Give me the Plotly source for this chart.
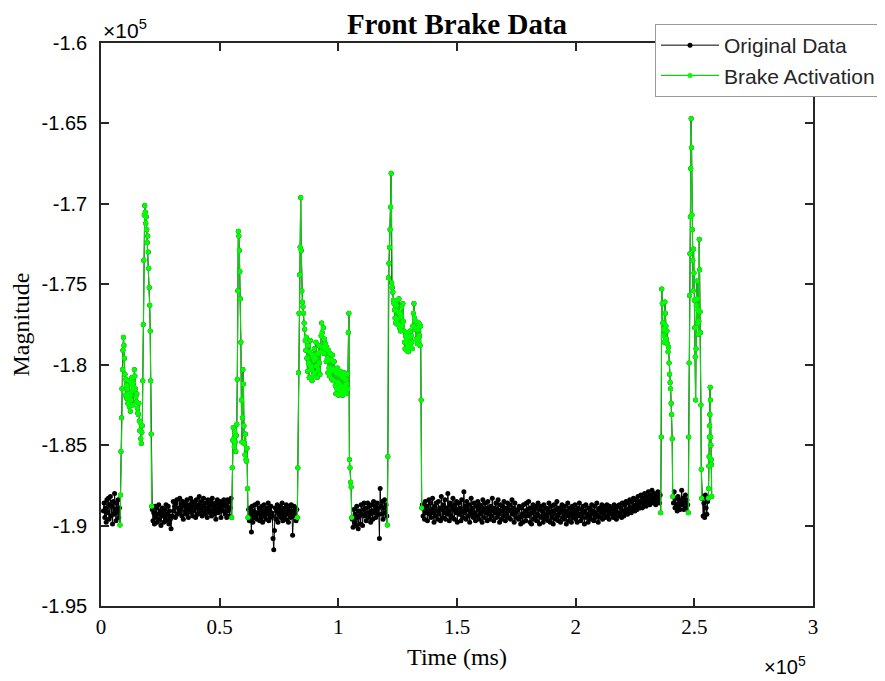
import numpy as np
import plotly.graph_objects as go

# ---- recorded blocks: time window (ms) and whether the brake was active ----
seg_start = [1000, 8000, 21600, 55070, 62200, 82710, 105900, 120630,
             135400, 175600, 215600, 235830, 241200, 247460, 253400, 255880]
seg_end = [7800, 21360, 54800, 61940, 82500, 105630, 120400, 135130,
           175000, 215000, 235600, 240890, 247200, 253100, 255600, 257320]
seg_brake = [0, 1, 0, 1, 0, 1, 0, 1, 0, 0, 0, 1, 0, 1, 0, 1]

# ---- magnitude samples of each block ----
idle_a = [-189100, -188600, -189500, -188900, -189800, -188400, -189200, -188300,
          -189600, -188700, -188200, -189400, -188800, -189900, -188500, -189300,
          -188000, -189000, -189700, -188600, -189200, -188400, -189500, -188900]
brake_a = [-189970, -188100, -185400, -183300, -181500, -180300,
           -179100, -178300, -178800, -179600, -180600, -181900, -180900,
           -181300, -182100, -181500, -182400, -181800, -181000, -182600, -181900,
           -182900, -182200, -181200, -180800, -181600, -182500, -181100, -181400,
           -180300, -180700, -181500, -182000, -182300, -181800, -182700, -183000,
           -183100, -182400, -183500, -184100, -183600, -184600, -184900, -184200, -183800,
           -181000, -177500, -173500, -170700, -170100, -170500, -171200, -170800,
           -171600, -172400, -172000, -173000, -174000, -175200, -176300, -177900,
           -181000, -184300, -188800]
idle_b = [-189000, -189700, -189200, -189900, -188800, -189500, -188900, -189800, -189300, -188700,
          -189600, -189100, -190000, -189200, -188900, -189400, -189800, -189000, -189500, -188700,
          -189700, -189300, -188800, -189900, -189100, -189600, -190200, -189400,
          -189400, -188500, -189100, -188800, -189500, -188600, -188400, -189300, -188900, -189200,
          -188300, -189000, -188700, -189400, -188500, -189600, -188800, -188600, -189100, -189300,
          -188400, -188900, -189500, -188700, -189000, -188300, -189200, -188500, -189400, -188800,
          -189100, -188600, -189500, -188400, -188900, -189300, -188700, -188200, -189200, -189000,
          -188500, -189400, -188800, -188300, -189100, -189300, -188600, -188900, -189500, -188400,
          -189000, -188700, -189200, -188500, -189400, -188300, -189100, -188800, -189300, -188600,
          -189600, -188900, -188400, -189200, -188700, -189000, -188500, -189500, -188800, -188600,
          -189100, -188400, -188600, -189300, -188800, -189500, -188400, -189100, -188500, -189400,
          -188900, -188300]
brake_b = [-189500, -186400, -184700, -183900, -184600, -185100, -184200, -184800,
           -185400, -184400, -183700, -180900, -175400, -171700, -172000, -172900,
           -174200, -175900, -178600, -182200, -184800, -183300, -180300, -181200,
           -183800, -184900, -185600, -184300, -185900, -186000, -185200, -187700, -189500]
idle_c = [-189000, -189700, -188900, -189300, -190400, -188800, -189800, -189100, -189500, -188700,
          -189400, -189200, -189600, -188600, -189300, -188900, -189700, -189000, -189500, -188800,
          -189800, -189200, -188700, -189400, -189100, -189600, -188900, -189300, -188600, -189700,
          -189000, -189500, -188800, -189200, -189400, -190800, -191500, -190300, -188900, -189600,
          -189100, -188700, -189800, -189000, -189300, -188800, -189500, -189200, -188600, -189700,
          -189100, -189400, -188900, -189600, -188700, -189300, -189000, -189800, -188800, -189200,
          -189500, -188700, -189100, -190600, -189400, -188800, -189300, -188900, -189700, -189000]
brake_c = [-189500, -186400, -180500, -176800, -174400, -172700, -169600,
           -172900, -175400, -176100, -176400, -176800, -177400, -177800, -178500, -179100,
           -178300, -179600, -180400, -178800, -179900, -180800, -179200, -178500, -180100,
           -180300, -181000, -179400, -180700, -179700,
           -179000, -180500, -179600, -178600, -180100, -180800, -179300, -180300, -178800,
           -179900, -180600, -179200,
           -178200, -177400, -178000, -178900, -177700, -179300, -178400, -179000,
           -178700, -179800, -178900, -179600, -180500, -179100, -180200, -180700, -179300,
           -180400, -179700, -180900, -179400, -180300, -181000, -179800,
           -180300, -181300, -181800, -180500, -181500, -180200, -181100, -181900, -180600,
           -181600, -180400, -181300, -181700, -180700, -181900, -180800, -181400, -180500,
           -181600, -180900, -181800, -181200, -180600, -181500,
           -178000, -176800, -185900, -186400, -187300, -187600, -189500]
idle_d = [-189600, -190100, -189000, -189800, -189300, -190000, -188800, -189500, -190200, -189100,
          -189400, -189900, -188700, -189300, -190000, -189000, -188600, -189400, -188900, -189700,
          -189200, -188600, -189500, -188800, -189300, -189800, -188700, -189100, -189600, -188500,
          -189200, -188800, -189500, -189000, -188600, -189300, -188900, -190800, -187700, -188800,
          -189300, -188500, -189600, -188900, -188400, -189200, -188700, -189400]
brake_d = [-189970, -185700, -174600, -173700, -172700, -171600, -170200, -168100,
           -174900, -175200, -175500, -176000, -176200, -176600, -177100, -177400,
           -176300, -177200, -176000, -177500, -176700, -175900, -177700, -176800,
           -177900, -177000, -176400, -177600, -176200, -177300,
           -177900, -178600, -179000, -178200,
           -178500, -179100, -178000, -178800, -179200, -178300, -178700, -177900,
           -178900, -178200, -178600, -179000,
           -177600, -176800, -176200, -177100, -177800,
           -177300, -178400, -177700, -178700, -177800, -178500, -177400, -178200,
           -178800, -177600,
           -182200, -188900]
idle_e1 = [-188700, -189400, -188900, -189600, -188500, -189200, -188800, -189700, -189100, -188400,
           -189300, -188600, -189500, -189000, -188300, -189200, -189800, -188800, -189400, -188600,
           -189100, -189600, -188500, -189300, -188900, -189700, -188200, -189000, -189500, -188700,
           -189200, -188400, -189600, -188900, -189300, -188000, -189100, -189700, -188600, -189400,
           -188800, -189500, -188300, -189000, -189600, -188700, -189200, -188500, -189800, -189000,
           -188600, -189300, -188900, -189700, -188400, -189100, -189500, -187900, -189200, -188800,
           -189600, -188500, -189000, -189400, -188700, -189800, -189100, -188300, -189300, -188900,
           -189500, -188600, -189200, -189700, -188800, -189400, -188500, -189000, -189600, -188700,
           -189300, -188900, -189800, -188400, -189100, -189500, -188600, -189200, -188900, -189700,
           -188500, -189300, -189000, -189600, -188800, -189400, -188300, -189100, -189700, -188900,
           -189200, -188600, -189500, -189000, -188400, -189300, -189800, -188700, -189100, -189600,
           -188800, -189400, -188500, -189200, -189700, -188900, -189300, -188600, -189500, -189000,
           -188700, -189600, -189100, -188400, -189300, -188900, -189800, -188600, -189200, -189500]
idle_e2 = [-189000, -189600, -188800, -189500, -189900, -188900, -189300, -189800, -188700, -189400,
           -189100, -189700, -188600, -189400, -189000, -188500, -189300, -189800, -188900, -189900,
           -189200, -188700, -189600, -189000, -189500, -188800, -189700, -189300, -188600, -189400,
           -189900, -189000, -188800, -189500, -189100, -189800, -188700, -189300, -189600, -188900,
           -189400, -189000, -189700, -188600, -189200, -189800, -188800, -189500, -189100, -189900,
           -188700, -189300, -189600, -189000, -188500, -189400, -189700, -188900, -189200, -189800,
           -189100, -188700, -189500, -189000, -189600, -188800, -189300, -189900, -189100, -188600,
           -189400, -189700, -188900, -189200, -189800, -188800, -189500, -189000, -189300, -188700,
           -189600, -189100, -189800, -188900, -189400, -188600, -189300, -189700, -189000, -189500,
           -188800, -189200, -189900, -189100, -188700, -189500, -189300, -189800, -188900, -189400,
           -189000, -189600, -188700, -189300, -189100, -189700, -188800, -189500, -189200, -188600,
           -189400, -189800, -189000, -188900, -189500, -189200, -188700, -189600, -189000, -189300,
           -188800, -189500, -189100, -188700, -189400, -189000, -189600, -188800, -189300, -189100]
idle_e3 = [-188900, -189500, -188700, -189300, -189000, -189600, -188800, -189200, -189400, -188700,
           -189300, -188900, -189500, -188600, -189100, -189400, -188700, -189200, -188500, -189000,
           -189300, -188600, -189100, -188400, -188900, -189200, -188500, -189000, -188300, -188800,
           -189100, -188400, -188700, -189000, -188200, -188800, -188500, -188900, -188100, -188600,
           -188900, -188300, -188700, -188000, -188500, -188800, -188200, -188600, -187900, -188400,
           -188700, -188100, -188500, -187800, -188300, -188600, -188000, -188400, -188700, -188200,
           -188500, -187900, -188300, -188600, -188100]
brake_e = [-189200, -184500, -175300, -176200, -177400, -178200, -177800, -178600,
           -176100, -176800, -177600, -178400, -177900, -178700, -179200, -178900,
           -179900, -180600, -181100, -181500, -182400, -183100, -184600, -188200]
idle_f = [-188600, -187900, -188900, -188300, -188700, -189100, -188200, -188800, -188400, -189000,
          -188500, -187800, -188700, -188300, -189000, -188600, -188100, -188900, -188400, -188700]
brake_f = [-189200, -184500, -179900, -175700, -173100, -170800, -167800, -164700,
           -166500, -170700, -171600, -173500, -175400, -172800, -174300, -176000,
           -177700, -179500, -182200, -179000, -176300, -174800, -175900, -177400,
           -176600, -178100, -177300, -172200, -174100, -176700, -178000, -182500,
           -186500, -188300]
idle_g = [-188300, -189400, -188600, -189500, -188100, -188900, -189300, -188500]
brake_g = [-188300, -187700, -186300, -185700, -184500, -183800, -183100, -181400,
           -182200, -184500, -185000, -185900, -186200, -188200]

seg_values = [idle_a, brake_a, idle_b, brake_b, idle_c, brake_c, idle_d, brake_d,
              idle_e1, idle_e2, idle_e3, brake_e, idle_f, brake_f, idle_g, brake_g]

# ---- tick labels (axes carry a x10^5 multiplier) ----
x_tickvals = [0, 50000, 100000, 150000, 200000, 250000, 300000]
x_ticktext = ["0", "0.5", "1", "1.5", "2", "2.5", "3"]
y_tickvals = [-195000, -190000, -185000, -180000, -175000, -170000, -165000, -160000]
y_ticktext = ["-1.95", "-1.9", "-1.85", "-1.8", "-1.75", "-1.7", "-1.65", "-1.6"]

# ---- assemble series ----
orig_t, orig_v, brake_t, brake_v = [], [], [], []
for s, e, b, vals in zip(seg_start, seg_end, seg_brake, seg_values):
    ts = np.linspace(s, e, len(vals)).tolist()
    orig_t += ts
    orig_v += vals
    if b:
        if brake_t:
            brake_t.append(None)
            brake_v.append(None)
        brake_t += ts
        brake_v += vals

fig = go.Figure()
fig.add_trace(go.Scatter(
    x=orig_t, y=orig_v, mode="lines+markers", name="Original Data",
    line=dict(color="#000000", width=1),
    marker=dict(color="#000000", size=5, line=dict(width=0)),
))
fig.add_trace(go.Scatter(
    x=brake_t, y=brake_v, mode="lines+markers", name="Brake Activation",
    line=dict(color="#10d010", width=1.2),
    marker=dict(color="#00ff00", size=5, line=dict(width=0)),
    connectgaps=False,
))

# page body adds an 8px offset, so figure coordinates = screen coordinates - 8
L, R, T, B = 93, 805, 35, 598
W, H = 885, 673
axis_col = "#262626"
PW, PH = R - L, B - T

fig.update_layout(
    width=W, height=H, autosize=False,
    margin=dict(l=L, r=W - R, t=T, b=H - B, pad=0),
    paper_bgcolor="white", plot_bgcolor="white",
    title=dict(text="<b>Front Brake Data</b>", x=0.5, xref="paper",
               y=1 - 16 / H, yref="container", yanchor="middle", xanchor="center",
               font=dict(family="Liberation Serif, Times New Roman, serif", size=29, color="#000")),
    showlegend=True,
    legend=dict(x=(647 - L) / PW, y=(B - 16) / PH, xanchor="left", yanchor="top",
                bgcolor="white", bordercolor="#999999", borderwidth=1,
                font=dict(family="Liberation Sans, Arial, sans-serif", size=21, color="#262626"),
                itemwidth=58, tracegroupgap=0),
    xaxis=dict(range=[0, 300000], tickvals=x_tickvals, ticktext=x_ticktext, automargin=False,
               showgrid=False, zeroline=False, showline=True, linecolor=axis_col, linewidth=1.6,
               mirror="ticks", ticks="inside", ticklen=8, tickwidth=1.6, tickcolor=axis_col,
               tickfont=dict(family="Liberation Serif, Times New Roman, serif", size=21, color="#000"),
               ticklabelstandoff=1,
               title=dict(text="Time (ms)", standoff=10,
                          font=dict(family="Liberation Serif, Times New Roman, serif", size=24, color="#000"))),
    yaxis=dict(range=[-195000, -160000], tickvals=y_tickvals, ticktext=y_ticktext, automargin=False,
               showgrid=False, zeroline=False, showline=True, linecolor=axis_col, linewidth=1.6,
               mirror="ticks", ticks="inside", ticklen=8, tickwidth=1.6, tickcolor=axis_col,
               tickfont=dict(family="Liberation Sans, Arial, sans-serif", size=20, color="#000"),
               ticklabelstandoff=8,
               title=dict(text="Magnitude", standoff=8,
                          font=dict(family="Liberation Serif, Times New Roman, serif", size=24, color="#000"))),
    annotations=[
        dict(text="\u00d710<sup>5</sup>", x=0, y=1, xref="paper", yref="paper",
             xanchor="left", yanchor="bottom", showarrow=False, yshift=-1,
             font=dict(family="Liberation Sans, Arial, sans-serif", size=21, color="#000")),
        dict(text="\u00d710<sup>5</sup>", x=(754 - L) / PW, y=-(657 - B) / PH,
             xref="paper", yref="paper", xanchor="left", yanchor="middle", showarrow=False,
             font=dict(family="Liberation Sans, Arial, sans-serif", size=20, color="#000")),
    ],
)

fig.write_html("out.html")
